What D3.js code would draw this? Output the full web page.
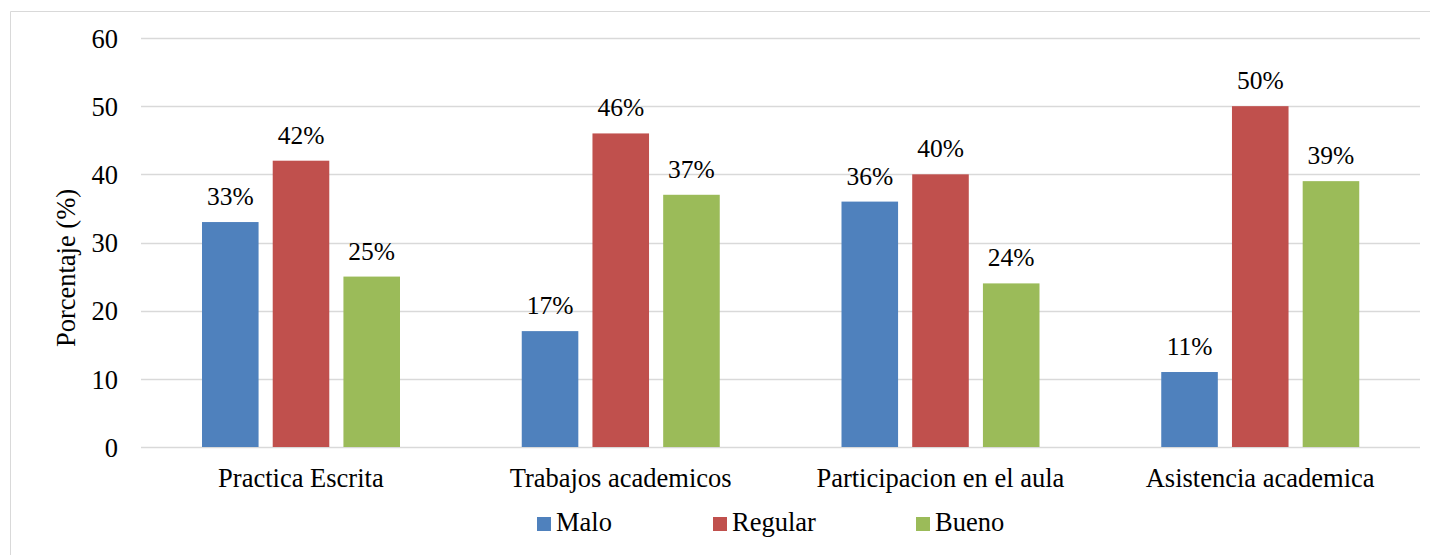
<!DOCTYPE html>
<html><head><meta charset="utf-8">
<script src="https://cdn.jsdelivr.net/npm/d3@7"></script>
<style>body{margin:0;background:#fff}svg{display:block}svg text{font-family:"Liberation Serif",serif !important;fill:#000}</style>
</head><body><svg id="c" width="1430" height="555"></svg>
<script>
const categories = ["Practica Escrita","Trabajos academicos","Participacion en el aula","Asistencia academica"];
const seriesNames = ["Malo","Regular","Bueno"];
const malo = [33,17,36,11];
const regular = [42,46,40,50];
const bueno = [25,37,24,39];
const yTicks = [0,10,20,30,40,50,60];
const colors = ["#4f81bd","#c0504d","#9bbb59"];
const FS = 26.5;
const LFS = 25.5;

const svg = d3.select("#c");
svg.append("path").attr("d","M10.5,555 V11.5 H1430").attr("fill","none").attr("stroke","#d9d9d9");

const m = {l:141,r:1420,t:38,b:447};
const x = d3.scaleBand().domain(categories).range([m.l,m.r]);
const y = d3.scaleLinear().domain([0,60]).range([m.b,m.t]);
const x1 = d3.scaleBand().domain(seriesNames).range([61,259]).paddingInner(0.2).paddingOuter(0);

const grid = svg.append("g");
grid.selectAll("line").data(yTicks).join("line")
  .attr("x1",m.l).attr("x2",m.r).attr("y1",d=>Math.round(y(d))+0.5).attr("y2",d=>Math.round(y(d))+0.5)
  .attr("stroke","#d9d9d9").attr("stroke-width",1.5);

const yAxis = svg.append("g").attr("transform",`translate(118,0)`)
  .call(d3.axisLeft(y).tickValues(yTicks).tickSize(0).tickPadding(0));
yAxis.attr("font-family",null).attr("font-size",null);
yAxis.select(".domain").remove();
yAxis.selectAll("text").attr("font-size",FS).attr("fill","#000").attr("dy","0.35em");

const data = [malo,regular,bueno];
const groups = svg.append("g").selectAll("g").data(categories).join("g")
  .attr("transform",d=>`translate(${x(d)},0)`);
groups.selectAll("rect").data((c,i)=>seriesNames.map((s,j)=>({s,v:data[j][i],j}))).join("rect")
  .attr("x",d=>x1(d.s)).attr("width",x1.bandwidth())
  .attr("y",d=>y(d.v)).attr("height",d=>y(0)-y(d.v))
  .attr("fill",d=>colors[d.j]);
groups.selectAll("text.lbl").data((c,i)=>seriesNames.map((s,j)=>({s,v:data[j][i],j}))).join("text")
  .attr("class","lbl").attr("x",d=>x1(d.s)+x1.bandwidth()/2).attr("y",d=>y(d.v)-17)
  .attr("text-anchor","middle").attr("font-size",LFS).text(d=>d.v+"%");

const xAxis = svg.append("g").attr("transform",`translate(0,${m.b})`)
  .call(d3.axisBottom(x).tickSize(0).tickPadding(0));
xAxis.attr("font-family",null).attr("font-size",null);
xAxis.select(".domain").remove();
xAxis.selectAll("text").attr("font-size",FS).attr("fill","#000").attr("dy",0).attr("y",40);

svg.append("text").attr("transform","translate(75,268) rotate(-90)").attr("text-anchor","middle")
  .attr("font-size",FS).text("Porcentaje (%)");

const legX = [537,713,916];
const leg = svg.append("g").selectAll("g").data(seriesNames).join("g")
  .attr("transform",(d,i)=>`translate(${legX[i]},517)`);
leg.append("rect").attr("width",14).attr("height",14).attr("fill",(d,i)=>colors[i]);
leg.append("text").attr("x",19).attr("y",14).attr("font-size",FS).text(d=>d);
</script></body></html>
